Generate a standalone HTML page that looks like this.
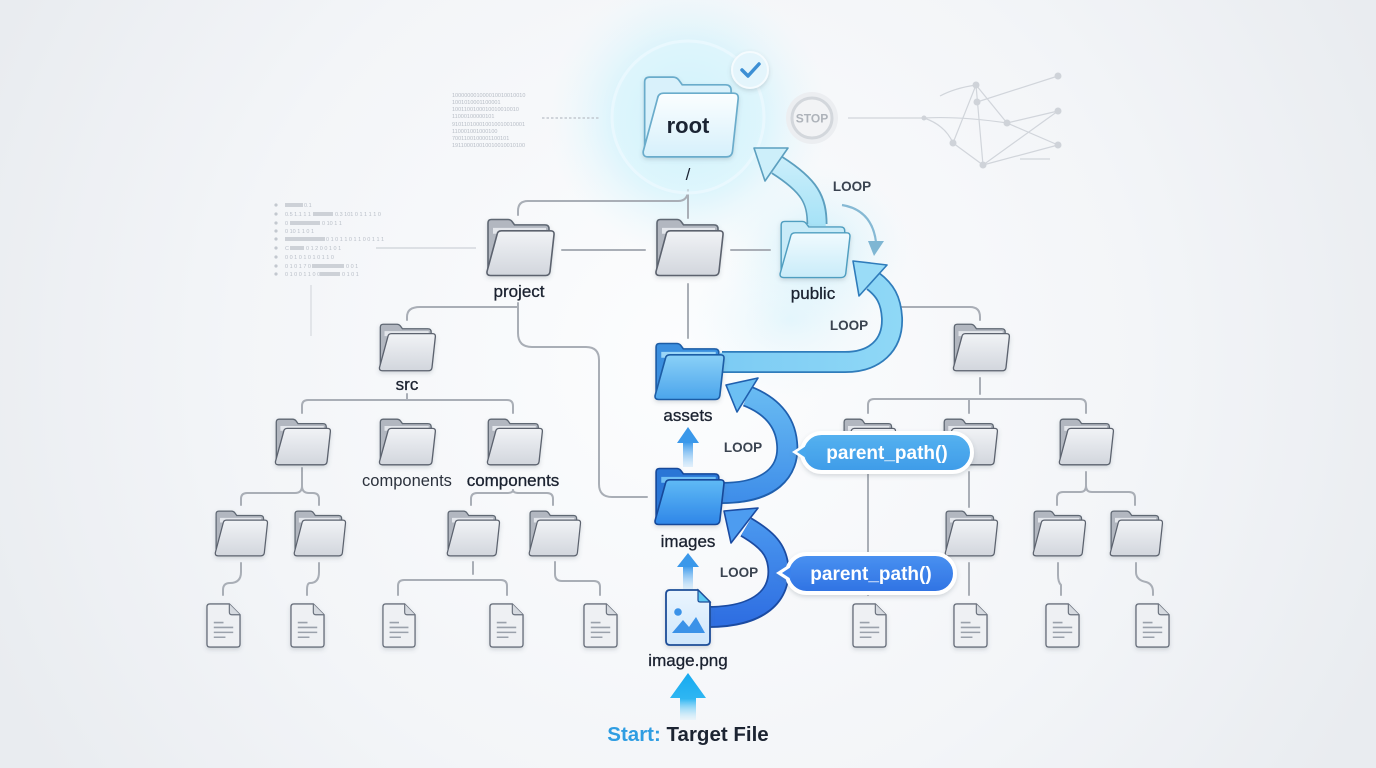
<!DOCTYPE html>
<html><head><meta charset="utf-8">
<style>
html,body{margin:0;padding:0;width:1376px;height:768px;overflow:hidden;background:#f1f3f6;}
svg{display:block;}
text{font-family:"Liberation Sans",sans-serif;}
</style></head>
<body>
<svg width="1376" height="768" viewBox="0 0 1376 768" xmlns="http://www.w3.org/2000/svg">
<defs>
 <radialGradient id="bg" cx="688" cy="360" r="760" gradientUnits="userSpaceOnUse">
  <stop offset="0" stop-color="#fcfdfe"/><stop offset="0.6" stop-color="#f3f5f8"/><stop offset="1" stop-color="#e9ecf0"/>
 </radialGradient>
 <radialGradient id="glowC" cx="0.5" cy="0.5" r="0.5">
  <stop offset="0" stop-color="#b8ecfb" stop-opacity="0.95"/><stop offset="0.55" stop-color="#cdf2fc" stop-opacity="0.6"/><stop offset="1" stop-color="#e6f8fd" stop-opacity="0"/>
 </radialGradient>
 <radialGradient id="glowS" cx="0.5" cy="0.5" r="0.5">
  <stop offset="0" stop-color="#c6eefb" stop-opacity="0.8"/><stop offset="1" stop-color="#e6f8fd" stop-opacity="0"/>
 </radialGradient>
 <linearGradient id="gF" x1="0" y1="0" x2="0" y2="1"><stop offset="0" stop-color="#f1f3f6"/><stop offset="1" stop-color="#d2d6dd"/></linearGradient>
 <linearGradient id="gBF" x1="0" y1="0" x2="0" y2="1"><stop offset="0" stop-color="#8ad0f7"/><stop offset="1" stop-color="#4ba5ec"/></linearGradient>
 <linearGradient id="gDF" x1="0" y1="0" x2="0" y2="1"><stop offset="0" stop-color="#5fbaf5"/><stop offset="1" stop-color="#2f86e8"/></linearGradient>
 <linearGradient id="gLF" x1="0" y1="0" x2="0" y2="1"><stop offset="0" stop-color="#f0fafe"/><stop offset="1" stop-color="#c9ecf9"/></linearGradient>
 <linearGradient id="gRF" x1="0" y1="0" x2="0" y2="1"><stop offset="0" stop-color="#fbfeff"/><stop offset="1" stop-color="#d6f0fb"/></linearGradient>
 <linearGradient id="gImg" x1="0" y1="0" x2="0" y2="1"><stop offset="0" stop-color="#eaf5fe"/><stop offset="1" stop-color="#cfe6fb"/></linearGradient>
 <linearGradient id="a1" x1="0" y1="620" x2="0" y2="510" gradientUnits="userSpaceOnUse"><stop offset="0" stop-color="#2f6fe2"/><stop offset="1" stop-color="#4d9cf0"/></linearGradient>
 <linearGradient id="a2" x1="0" y1="500" x2="0" y2="380" gradientUnits="userSpaceOnUse"><stop offset="0" stop-color="#3f8ee9"/><stop offset="1" stop-color="#6cbff3"/></linearGradient>
 <linearGradient id="a3" x1="720" y1="0" x2="900" y2="0" gradientUnits="userSpaceOnUse"><stop offset="0" stop-color="#7ccbf4"/><stop offset="1" stop-color="#8fd8f6"/></linearGradient>
 <linearGradient id="a4" x1="0" y1="225" x2="0" y2="145" gradientUnits="userSpaceOnUse"><stop offset="0" stop-color="#a6e2f7"/><stop offset="1" stop-color="#d2f1fb"/></linearGradient>
 <linearGradient id="st" x1="0" y1="673" x2="0" y2="720" gradientUnits="userSpaceOnUse"><stop offset="0" stop-color="#16aaf0"/><stop offset="0.55" stop-color="#2fb6f2"/><stop offset="1" stop-color="#bfe7fb" stop-opacity="0.2"/></linearGradient>
 <linearGradient id="sm" x1="0" y1="0" x2="0" y2="1"><stop offset="0" stop-color="#3a98ea"/><stop offset="1" stop-color="#a9d6f8" stop-opacity="0.3"/></linearGradient>
 <linearGradient id="p1" x1="0" y1="0" x2="0" y2="1"><stop offset="0" stop-color="#56b2f0"/><stop offset="1" stop-color="#3e9be8"/></linearGradient>
 <linearGradient id="p2" x1="0" y1="0" x2="0" y2="1"><stop offset="0" stop-color="#4a92f1"/><stop offset="1" stop-color="#2f72e3"/></linearGradient>
 <filter id="sh" x="-20%" y="-20%" width="140%" height="150%"><feDropShadow dx="0" dy="2" stdDeviation="2" flood-color="#56606e" flood-opacity="0.22"/></filter>
 <filter id="blur8"><feGaussianBlur stdDeviation="8"/></filter>

 <symbol id="fg" viewBox="0 0 72 60" preserveAspectRatio="none">
  <path d="M4 5 Q4 1.5 7.5 1.5 L24 1.5 Q26.5 1.5 28 3.5 L30.5 7 L61 7 Q65 7 65 11 L65 54 Q65 58 61 58 L8 58 Q4 58 4 54 Z" fill="#b2b7c0" stroke="#5f6773" stroke-width="1.6"/>
  <path d="M9 10 L62 10 L62 16 L9 16 Z" fill="#e4e7ec"/>
  <path d="M13 17 Q13.5 13 17.5 13 L66.5 13 Q70.5 13 70 17 L66 54.5 Q65.5 58.5 61.5 58.5 L6.5 58.5 Q2.5 58.5 3 54.5 Z" fill="url(#gF)" stroke="#5b626e" stroke-width="1.6"/>
 </symbol>
 <symbol id="fb" viewBox="0 0 72 60" preserveAspectRatio="none">
  <path d="M4 5 Q4 1.5 7.5 1.5 L24 1.5 Q26.5 1.5 28 3.5 L30.5 7 L61 7 Q65 7 65 11 L65 54 Q65 58 61 58 L8 58 Q4 58 4 54 Z" fill="#3b8fdf" stroke="#1e5da6" stroke-width="1.6"/>
  <path d="M9 10 L62 10 L62 16 L9 16 Z" fill="#9bd6f7"/>
  <path d="M13 17 Q13.5 13 17.5 13 L66.5 13 Q70.5 13 70 17 L66 54.5 Q65.5 58.5 61.5 58.5 L6.5 58.5 Q2.5 58.5 3 54.5 Z" fill="url(#gBF)" stroke="#1e5da6" stroke-width="1.6"/>
 </symbol>
 <symbol id="fd" viewBox="0 0 72 60" preserveAspectRatio="none">
  <path d="M4 5 Q4 1.5 7.5 1.5 L24 1.5 Q26.5 1.5 28 3.5 L30.5 7 L61 7 Q65 7 65 11 L65 54 Q65 58 61 58 L8 58 Q4 58 4 54 Z" fill="#2a76d6" stroke="#17499a" stroke-width="1.6"/>
  <path d="M9 10 L62 10 L62 16 L9 16 Z" fill="#6fbff4"/>
  <path d="M13 17 Q13.5 13 17.5 13 L66.5 13 Q70.5 13 70 17 L66 54.5 Q65.5 58.5 61.5 58.5 L6.5 58.5 Q2.5 58.5 3 54.5 Z" fill="url(#gDF)" stroke="#17499a" stroke-width="1.6"/>
 </symbol>
 <symbol id="fl" viewBox="0 0 72 60" preserveAspectRatio="none">
  <path d="M4 5 Q4 1.5 7.5 1.5 L24 1.5 Q26.5 1.5 28 3.5 L30.5 7 L61 7 Q65 7 65 11 L65 54 Q65 58 61 58 L8 58 Q4 58 4 54 Z" fill="#c8ebf8" stroke="#4f9ec0" stroke-width="1.4"/>
  <path d="M13 17 Q13.5 13 17.5 13 L66.5 13 Q70.5 13 70 17 L66 54.5 Q65.5 58.5 61.5 58.5 L6.5 58.5 Q2.5 58.5 3 54.5 Z" fill="url(#gLF)" stroke="#4f9ec0" stroke-width="1.4"/>
 </symbol>
 <symbol id="fr" viewBox="0 0 72 60" preserveAspectRatio="none">
  <path d="M4 5 Q4 1.5 7.5 1.5 L24 1.5 Q26.5 1.5 28 3.5 L30.5 7 L61 7 Q65 7 65 11 L65 54 Q65 58 61 58 L8 58 Q4 58 4 54 Z" fill="#d9f1fb" stroke="#6aaccb" stroke-width="1.2"/>
  <path d="M13 17 Q13.5 13 17.5 13 L66.5 13 Q70.5 13 70 17 L66 54.5 Q65.5 58.5 61.5 58.5 L6.5 58.5 Q2.5 58.5 3 54.5 Z" fill="url(#gRF)" stroke="#6aaccb" stroke-width="1.2"/>
 </symbol>
 <symbol id="fi" viewBox="0 0 36 46" preserveAspectRatio="none">
  <path d="M4 1 L24 1 L35 12 L35 42 Q35 45 32 45 L4 45 Q1 45 1 42 L1 4 Q1 1 4 1 Z" fill="#eef0f3" stroke="#6a717d" stroke-width="1.4"/>
  <path d="M24 1 L24 9.5 Q24 12 26.5 12 L35 12" fill="#d6dae0" stroke="#6a717d" stroke-width="1.2"/>
  <path d="M8 20 H18 M8 25 H28 M8 30 H28 M8 35 H20" stroke="#9aa1ab" stroke-width="1.6"/>
 </symbol>
</defs>

<rect width="1376" height="768" fill="url(#bg)"/>

<!-- glows -->
<circle cx="688" cy="118" r="140" fill="url(#glowC)"/>
<ellipse cx="815" cy="250" rx="95" ry="85" fill="url(#glowS)"/>
<ellipse cx="790" cy="320" rx="110" ry="80" fill="url(#glowS)" opacity="0.5"/>

<!-- decorative data text left -->
<g fill="#b9bfc8" font-size="5.5">
 <g fill="#c3c8cf"><circle cx="276" cy="205" r="1.6"/><circle cx="276" cy="214" r="1.6"/><circle cx="276" cy="223" r="1.6"/><circle cx="276" cy="231" r="1.6"/><circle cx="276" cy="239" r="1.6"/><circle cx="276" cy="248" r="1.6"/><circle cx="276" cy="257" r="1.6"/><circle cx="276" cy="266" r="1.6"/><circle cx="276" cy="274" r="1.6"/></g>
 <rect x="285" y="203" width="18" height="4" fill="#cdd1d7"/><text x="304" y="207">0.1</text>
 <text x="285" y="216">0.5 1.1 1 1</text><rect x="313" y="212" width="20" height="4" fill="#cdd1d7"/><text x="335" y="216">0.3 101 0 1 1 1 1 0</text>
 <text x="285" y="225">0</text><rect x="290" y="221" width="30" height="4" fill="#cdd1d7"/><text x="322" y="225">0 10 1 1</text>
 <text x="285" y="233">0 10 1 1 0 1</text>
 <rect x="285" y="237" width="40" height="4" fill="#cdd1d7"/><text x="326" y="241">0 1 0 1 1 0 1 1 0 0 1 1 1</text>
 <text x="285" y="250">C</text><rect x="290" y="246" width="14" height="4" fill="#cdd1d7"/><text x="306" y="250">0 1 2 0 0 1 0 1</text>
 <text x="285" y="259">0 0 1 0 1 0 1 0 1 1 0</text>
 <text x="285" y="268">0 1 0 1 7 0 0</text><rect x="312" y="264" width="32" height="4" fill="#cdd1d7"/><text x="346" y="268">0 0 1</text>
 <text x="285" y="276">0 1 0 0 1 1 0 0 1</text><rect x="320" y="272" width="20" height="4" fill="#cdd1d7"/><text x="342" y="276">0 1 0 1</text>
</g>
<line x1="376" y1="248" x2="476" y2="248" stroke="#cdd2d8" stroke-width="1.2"/>
<line x1="311" y1="285" x2="311" y2="336" stroke="#d5d9de" stroke-width="1.2"/>

<!-- decorative data text top -->
<g fill="#b7bdc6" font-size="5.5" font-family="Liberation Mono, monospace">
 <text x="452" y="97">100000001000010010010010</text>
 <text x="452" y="104">1001010001100001</text>
 <text x="452" y="111">1001100100010010010010</text>
 <text x="452" y="118">11000100000101</text>
 <text x="452" y="126">910110100010010010010001</text>
 <text x="452" y="133">110001001000100</text>
 <text x="452" y="140">7001100100001100101</text>
 <text x="452" y="147">191100010010010010010100</text>
</g>
<line x1="542" y1="118" x2="600" y2="118" stroke="#b9bec6" stroke-width="1.2" stroke-dasharray="2.5 2"/>

<!-- network top right -->
<g stroke="#d1d5db" stroke-width="1.2" fill="none">
 <line x1="848" y1="118" x2="924" y2="118"/>
 <path d="M924 118 Q960 116 1007 123"/>
 <path d="M924 118 Q945 125 953 143"/>
 <line x1="953" y1="143" x2="976" y2="85"/>
 <line x1="953" y1="143" x2="983" y2="165"/>
 <line x1="976" y1="85" x2="983" y2="165"/>
 <line x1="976" y1="85" x2="1007" y2="123"/>
 <line x1="977" y1="102" x2="1058" y2="76"/>
 <line x1="1007" y1="123" x2="1058" y2="111"/>
 <line x1="983" y1="165" x2="1058" y2="111"/>
 <line x1="983" y1="165" x2="1058" y2="145"/>
 <line x1="1007" y1="123" x2="1058" y2="145"/>
 <path d="M976 85 Q955 88 940 96"/>
 <line x1="1020" y1="159" x2="1050" y2="159"/>
</g>
<g fill="#cfd3d9">
 <circle cx="924" cy="118" r="2.5"/><circle cx="976" cy="85" r="3.5"/><circle cx="977" cy="102" r="3.5"/><circle cx="1058" cy="76" r="3.5"/><circle cx="1058" cy="111" r="3.5"/><circle cx="1007" cy="123" r="3.5"/><circle cx="953" cy="143" r="3.5"/><circle cx="983" cy="165" r="3.5"/><circle cx="1058" cy="145" r="3.5"/>
</g>

<!-- STOP -->
<circle cx="812" cy="118" r="26" fill="#eceef1"/>
<circle cx="812" cy="118" r="20" fill="#f2f3f5" stroke="#d3d7dc" stroke-width="3"/>
<text x="812" y="122.5" text-anchor="middle" font-size="12" font-weight="bold" fill="#aeb3ba">STOP</text>

<!-- tree connectors -->
<g stroke="#a9aeb6" stroke-width="2" fill="none" stroke-linecap="round">
 <!-- root to level 1 -->
 <path d="M688 190 L688 218"/>
 <path d="M688 190 Q688 201 678 201 L528 201 Q518 201 518 211 L518 215"/>
 <path d="M562 250 L645 250"/>
 <path d="M731 250 L770 250"/>
 <path d="M688 284 L688 338"/>
 <!-- project to src / images -->
 <path d="M518 303 L518 333 Q518 347 532 347 L586 347 Q599 347 599 360 L599 484 Q599 497 612 497 L647 497"/>
 <path d="M518 307 L420 307 Q407 307 407 317 L407 320"/>
 <!-- src brace -->
 <path d="M407 394 L407 400"/>
 <path d="M302 413 L302 406 Q302 400 308 400 L507 400 Q513 400 513 406 L513 413"/>
 <!-- comp1 brace -->
 <path d="M302 468 L302 486 Q302 493 295 493 L247 493 Q241 493 241 499 L241 505"/>
 <path d="M302 486 Q302 493 309 493 L313 493 Q319 493 319 499 L319 505"/>
 <!-- comp3 brace -->
 <path d="M513 490 Q513 493 507 493 L477 493 Q471 493 471 499 L471 505"/>
 <path d="M513 490 Q513 493 519 493 L547 493 Q553 493 553 499 L553 505"/>
 <!-- to files left -->
 <path d="M241 563 L241 572 Q241 583 230 583 Q223 583 223 590 L223 595"/>
 <path d="M319 563 L319 572 Q319 583 310 583 Q307 583 307 590 L307 595"/>
 <path d="M473 562 L473 574"/>
 <path d="M398 595 L398 586 Q398 580 404 580 L501 580 Q507 580 507 586 L507 595"/>
 <path d="M555 562 L555 574 Q555 581 562 581 L594 581 Q600 581 600 587 L600 595"/>
 <!-- right tree -->
 <path d="M897 307 L970 307 Q980 307 980 317 L980 320"/>
 <path d="M980 378 L980 394"/>
 <path d="M868 413 L868 405 Q868 399 874 399 L1080 399 Q1086 399 1086 405 L1086 413"/>
 <path d="M969 399 L969 413"/>
 <path d="M868 472 L868 595"/>
 <path d="M969 472 L969 507"/>
 <path d="M969 563 L969 595"/>
 <path d="M1086 472 L1086 486 Q1086 492 1080 492 L1063 492 Q1057 492 1057 498 L1057 505"/>
 <path d="M1086 486 Q1086 492 1092 492 L1129 492 Q1135 492 1135 498 L1135 505"/>
 <path d="M1058 563 L1058 575 Q1058 582 1061 585 L1061 595"/>
 <path d="M1136 563 L1136 572 Q1136 580 1146 582 Q1153 584 1153 592 L1153 595"/>
</g>

<!-- root badge circle -->
<circle cx="688" cy="117" r="76" fill="#dff5fd" fill-opacity="0.55" stroke="#e9f8fe" stroke-width="3"/>
<circle cx="750" cy="70" r="18" fill="#e4f5fc" stroke="#f5fbfe" stroke-width="2" filter="url(#sh)"/>
<path d="M742 70 L748 76 L759 64" stroke="#3d8fd4" stroke-width="3.5" fill="none" stroke-linecap="round" stroke-linejoin="round"/>
<use href="#fr" x="639" y="75" width="102" height="84" filter="url(#sh)"/>
<text x="688" y="133" text-anchor="middle" font-size="22" font-weight="bold" fill="#1b2433">root</text>
<text x="688" y="180" text-anchor="middle" font-size="17" fill="#1b2433">/</text>

<!-- gray folders -->
<g filter="url(#sh)">
 <use href="#fg" x="484" y="218" width="72" height="59"/>
 <use href="#fg" x="653" y="218" width="72" height="59"/>
 <use href="#fg" x="377" y="323" width="60" height="49"/>
 <use href="#fg" x="273" y="418" width="59" height="48"/>
 <use href="#fg" x="377" y="418" width="60" height="48"/>
 <use href="#fg" x="485" y="418" width="59" height="48"/>
 <use href="#fg" x="213" y="510" width="56" height="47"/>
 <use href="#fg" x="292" y="510" width="55" height="47"/>
 <use href="#fg" x="445" y="510" width="56" height="47"/>
 <use href="#fg" x="527" y="510" width="55" height="47"/>
 <use href="#fg" x="951" y="323" width="60" height="49"/>
 <use href="#fg" x="841" y="418" width="56" height="48"/>
 <use href="#fg" x="941" y="418" width="58" height="48"/>
 <use href="#fg" x="1057" y="418" width="58" height="48"/>
 <use href="#fg" x="943" y="510" width="56" height="47"/>
 <use href="#fg" x="1031" y="510" width="56" height="47"/>
 <use href="#fg" x="1108" y="510" width="56" height="47"/>
 <use href="#fi" x="206" y="603" width="35" height="45"/>
 <use href="#fi" x="290" y="603" width="35" height="45"/>
 <use href="#fi" x="382" y="603" width="34" height="45"/>
 <use href="#fi" x="489" y="603" width="35" height="45"/>
 <use href="#fi" x="583" y="603" width="35" height="45"/>
 <use href="#fi" x="852" y="603" width="35" height="45"/>
 <use href="#fi" x="953" y="603" width="35" height="45"/>
 <use href="#fi" x="1045" y="603" width="35" height="45"/>
 <use href="#fi" x="1135" y="603" width="35" height="45"/>
</g>

<!-- labels -->
<g font-size="17" fill="#1b2230" text-anchor="middle" stroke="#1b2230" stroke-width="0.3">
 <text x="519" y="297">project</text>
 <text x="813" y="299">public</text>
 <text x="407" y="390">src</text>
 <text x="513" y="486">components</text>
 <text x="688" y="421">assets</text>
 <text x="688" y="547">images</text>
 <text x="688" y="666">image.png</text>
</g>
<text x="407" y="486" font-size="16.5" fill="#2c323d" text-anchor="middle">components</text>

<!-- small thin loop arrow near public -->
<path d="M842 205 Q872 210 876 242" stroke="#86b9d4" stroke-width="2.2" fill="none"/>
<polygon points="868,241 884,241 874,256" fill="#7fb6d3"/>

<!-- Arrow 4: public -> root -->
<path d="M817 224 C 817 200, 810 186, 777 165" stroke="#5c9fbf" stroke-width="21" fill="none"/>
<path d="M817 226 C 817 200, 810 186, 777 165" stroke="url(#a4)" stroke-width="17.5" fill="none"/>
<polygon points="754,148 765,181 788,148" fill="#cdeffa" stroke="#5c9fbf" stroke-width="1.6" stroke-linejoin="round"/>

<!-- public folder -->
<use href="#fl" x="777" y="220" width="75" height="59" filter="url(#sh)"/>

<!-- Arrow 3: assets -> public -->
<path d="M722 362 L845 362 C 875 362, 893 345, 892 318 C 891 300, 885 290, 873 281" stroke="#2f7cbb" stroke-width="22" fill="none"/>
<path d="M720 362 L845 362 C 875 362, 893 345, 892 318 C 891 300, 885 290, 873 281" stroke="url(#a3)" stroke-width="18.5" fill="none"/>
<polygon points="853,261 859,296 887,265" fill="#9adcf7" stroke="#2f7cbb" stroke-width="1.6" stroke-linejoin="round"/>

<!-- Arrow 2: images -> assets -->
<path d="M722 493 C 770 493, 790 472, 787 443 C 785 420, 770 405, 747 396" stroke="#1f5fae" stroke-width="22" fill="none"/>
<path d="M720 493 C 770 493, 790 472, 787 443 C 785 420, 770 405, 747 396" stroke="url(#a2)" stroke-width="18.5" fill="none"/>
<polygon points="726,385 737,412 758,378" fill="#6cbff3" stroke="#1f5fae" stroke-width="1.6" stroke-linejoin="round"/>

<!-- Arrow 1: image -> images -->
<path d="M708 617 C 760 617, 782 595, 778 565 C 776 550, 768 540, 746 527" stroke="#1b4ba2" stroke-width="22" fill="none"/>
<path d="M706 617 C 760 617, 782 595, 778 565 C 776 550, 768 540, 746 527" stroke="url(#a1)" stroke-width="18.5" fill="none"/>
<polygon points="724,511 731,543 758,508" fill="#4d9cf0" stroke="#1b4ba2" stroke-width="1.6" stroke-linejoin="round"/>

<!-- blue folders -->
<use href="#fb" x="652" y="342" width="74" height="59" filter="url(#sh)"/>
<use href="#fd" x="652" y="467" width="74" height="59" filter="url(#sh)"/>

<!-- image file -->
<g filter="url(#sh)">
 <path d="M670 590 L698 590 L710 602 L710 641 Q710 645 706 645 L670 645 Q666 645 666 641 L666 594 Q666 590 670 590 Z" fill="url(#gImg)" stroke="#1c4d98" stroke-width="1.8"/>
 <path d="M698 590 L698 600 Q698 602 700 602 L710 602 Z" fill="#5cc8f2" stroke="#1c4d98" stroke-width="1.2"/>
 <circle cx="678" cy="612" r="3.8" fill="#3a92e8"/>
 <path d="M672 633 L683 620 L689 627 L696 617 L705 633 Z" fill="#3a92e8"/>
</g>

<!-- small up arrows -->
<path d="M683 442 L693 442 L693 467 L683 467 Z" fill="url(#sm)"/>
<polygon points="688,427 699,443 677,443" fill="#3a98ea"/>
<path d="M683 566 L693 566 L693 589 L683 589 Z" fill="url(#sm)"/>
<polygon points="688,553 699,567 677,567" fill="#3a98ea"/>

<!-- LOOP labels -->
<g font-size="13.5" font-weight="bold" fill="#3a4350">
 <text x="852" y="191" text-anchor="middle">LOOP</text>
 <text x="849" y="330" text-anchor="middle">LOOP</text>
 <text x="743" y="452" text-anchor="middle">LOOP</text>
 <text x="739" y="577" text-anchor="middle">LOOP</text>
</g>

<!-- pills -->
<g filter="url(#sh)">
 <polygon points="806,443 792,452 806,461" fill="#ffffff"/>
 <rect x="802" y="433" width="170" height="39" rx="19.5" fill="url(#p1)" stroke="#ffffff" stroke-width="4"/>
 <polygon points="806,446 797,452 806,458" fill="#4aa8ee"/>
 <polygon points="790,564 776,573 790,582" fill="#ffffff"/>
 <rect x="787" y="554" width="168" height="39" rx="19.5" fill="url(#p2)" stroke="#ffffff" stroke-width="4"/>
 <polygon points="791,567 782,573 791,579" fill="#3a82ec"/>
</g>
<text x="887" y="459" text-anchor="middle" font-size="19" font-weight="bold" fill="#ffffff">parent_path()</text>
<text x="871" y="580" text-anchor="middle" font-size="19" font-weight="bold" fill="#ffffff">parent_path()</text>

<!-- start arrow -->
<polygon points="688,673 706,698 696,698 696,720 680,720 680,698 670,698" fill="url(#st)"/>
<text x="688" y="741" text-anchor="middle" font-size="20.5" font-weight="bold"><tspan fill="#2f9de2">Start:</tspan><tspan fill="#1c2432"> Target File</tspan></text>
</svg>
</body></html>
